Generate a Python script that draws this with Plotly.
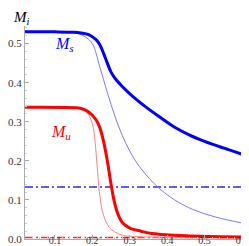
import plotly.graph_objects as go

# Thick blue (M_s)
T_s = [0.02, 0.10, 0.15, 0.17, 0.19, 0.21, 0.22, 0.23, 0.24, 0.25, 0.26, 0.28, 0.31, 0.34, 0.38, 0.42, 0.46, 0.50, 0.55, 0.60]
M_s = [0.530, 0.530, 0.529, 0.527, 0.523, 0.510, 0.497, 0.475, 0.450, 0.427, 0.412, 0.390, 0.363, 0.340, 0.312, 0.286, 0.266, 0.250, 0.233, 0.217]
# Thin blue
T_s2 = [0.02, 0.12, 0.16, 0.18, 0.20, 0.22, 0.24, 0.26, 0.28, 0.30, 0.33, 0.375, 0.42, 0.47, 0.53, 0.60]
M_s2 = [0.530, 0.529, 0.526, 0.518, 0.500, 0.440, 0.375, 0.315, 0.265, 0.225, 0.180, 0.133, 0.100, 0.075, 0.056, 0.041]
# Thick red (M_u)
T_u = [0.02, 0.15, 0.17, 0.19, 0.21, 0.22, 0.23, 0.24, 0.25, 0.26, 0.27, 0.28, 0.30, 0.33, 0.36, 0.45, 0.60]
M_u = [0.337, 0.336, 0.334, 0.325, 0.305, 0.285, 0.250, 0.200, 0.140, 0.090, 0.060, 0.042, 0.028, 0.020, 0.014, 0.008, 0.005]
# Thin red
T_u2 = [0.02, 0.16, 0.18, 0.19, 0.20, 0.205, 0.21, 0.215, 0.22, 0.23, 0.245, 0.26, 0.28, 0.32, 0.60]
M_u2 = [0.337, 0.336, 0.330, 0.318, 0.295, 0.270, 0.220, 0.160, 0.110, 0.060, 0.030, 0.018, 0.010, 0.006, 0.003]
# Dash-dot constants
T_const = [0.02, 0.60]
M_s_const = [0.133, 0.133]
M_u_const = [0.004, 0.004]

x_ticks = [0.1, 0.2, 0.3, 0.4, 0.5, 0.6]
y_ticks = [0.0, 0.1, 0.2, 0.3, 0.4, 0.5]

SERIF = "Liberation Serif"

fig = go.Figure()
fig.add_trace(go.Scatter(x=T_const, y=M_s_const, mode="lines",
                         line=dict(color="#2a2aff", width=1.6, dash="8px,3px,2px,3px")))
fig.add_trace(go.Scatter(x=T_const, y=M_u_const, mode="lines",
                         line=dict(color="#ff2a2a", width=1.6, dash="8px,3px,2px,3px")))
fig.add_trace(go.Scatter(x=T_s2, y=M_s2, mode="lines", line=dict(color="#7a7aff", width=1, shape="spline")))
fig.add_trace(go.Scatter(x=T_u2, y=M_u2, mode="lines", line=dict(color="#ff8080", width=1, shape="spline")))
fig.add_trace(go.Scatter(x=T_s, y=M_s, mode="lines", line=dict(color="#0000ff", width=3, shape="spline")))
fig.add_trace(go.Scatter(x=T_u, y=M_u, mode="lines", line=dict(color="#ff0000", width=3, shape="spline")))

font = dict(family=SERIF, size=11, color="#333333")
xfont = dict(family=SERIF, size=10, color="#333333")

fig.update_layout(
    width=249, height=246,
    margin=dict(l=17, r=15, t=18, b=15, autoexpand=False),
    paper_bgcolor="white", plot_bgcolor="white",
    showlegend=False,
    font=font,
    xaxis=dict(range=[0.02, 0.6], tickvals=x_ticks, ticktext=["0.1", "0.2", "0.3", "0.4", "0.5", "0.6"],
               showgrid=False, zeroline=False, showline=True, linecolor="#aaaaaa", linewidth=1,
               ticks="inside", ticklen=4, tickcolor="#aaaaaa", automargin=False,
               ticklabelstandoff=-8,
               minor=dict(ticks="inside", ticklen=2, tickcolor="#cccccc", dtick=0.02),
               tickfont=xfont),
    yaxis=dict(range=[0, 0.545], tickvals=y_ticks, ticktext=["0.0", "0.1", "0.2", "0.3", "0.4", "0.5"],
               showgrid=False, zeroline=False, showline=True, linecolor="#aaaaaa", linewidth=1,
               ticks="inside", ticklen=4, tickcolor="#aaaaaa", automargin=False,
               minor=dict(ticks="inside", ticklen=2, tickcolor="#cccccc", dtick=0.02),
               tickfont=font),
)
fig.add_annotation(x=0, y=1, xref="paper", yref="paper", xanchor="left", yanchor="bottom", xshift=-14, yshift=-3,
                   text="<i>M</i><sub><i>i</i></sub>", showarrow=False,
                   font=dict(family=SERIF, size=15, color="black"))
fig.add_annotation(x=1, y=0, xref="paper", yref="paper", xanchor="left", yanchor="middle", xshift=0, yshift=4,
                   text="T", showarrow=False,
                   font=dict(family=SERIF, size=14, color="black"))
fig.add_annotation(x=0.125, y=0.497, text="<i>M</i><sub><i>s</i></sub>", showarrow=False,
                   font=dict(family=SERIF, size=16, color="#0000ff"))
fig.add_annotation(x=0.115, y=0.272, text="<i>M</i><sub><i>u</i></sub>", showarrow=False,
                   font=dict(family=SERIF, size=16, color="#ff0000"))

fig.write_html("out.html")
